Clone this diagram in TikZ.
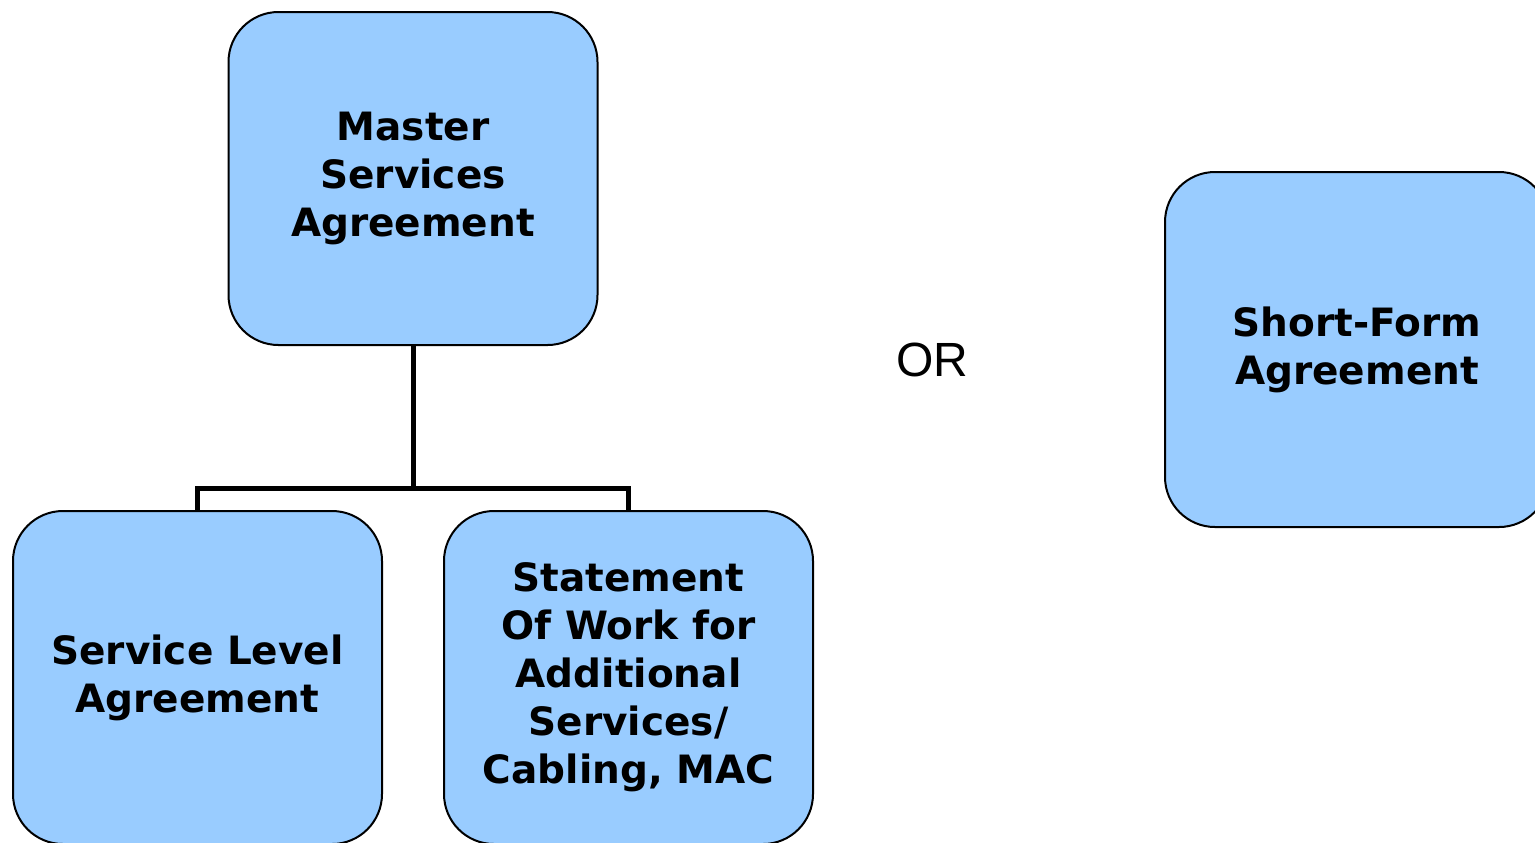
\documentclass[tikz,border=0pt]{standalone}
\usepackage{fontspec}
\setmainfont{DejaVu Sans}
\newfontfamily\orfont{Liberation Sans}
\usetikzlibrary{positioning}

\definecolor{boxblue}{HTML}{99CCFF}

\begin{document}
\begin{tikzpicture}[
    x=0.5pt,
    y=-0.5pt,
    box/.style={draw, line width=1pt, fill=boxblue, rounded corners=25pt, align=center, minimum width=184.5pt, minimum height=166.5pt, inner sep=2pt, font=\fontsize{19.5}{24}\selectfont\bfseries},
    widebox/.style={box, minimum width=192pt, minimum height=177.5pt},
    line/.style={line width=2.5pt}
]
\clip (0,0) rectangle (1535,842);
\useasboundingbox (0,0) rectangle (1535,842);
\node[box] (msa) at (413,178.5) {Master\\Services\\Agreement};
\node[box] (sla) at (197.5,677.5) {Service Level\\Agreement};
\node[box] (sow) at (628.5,677.5) {Statement\\Of Work for\\Additional\\Services/\\Cabling, MAC};
\node[font=\orfont\fontsize{24}{28}\selectfont] (or) at (932,360) {OR};
\node[widebox] (sfa) at (1357,349.5) {Short-Form\\Agreement};

\draw[line] (msa.south) -- ++(0,142) coordinate (split);
\draw[line] (split) -| (sla.north);
\draw[line] (split) -| (sow.north);
\end{tikzpicture}
\end{document}
